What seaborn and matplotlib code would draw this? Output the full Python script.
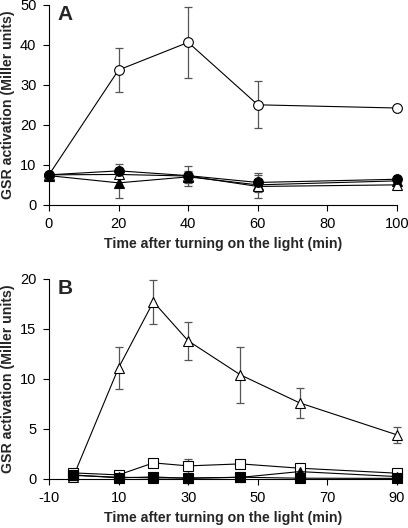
import matplotlib
matplotlib.use("Agg")
import matplotlib.pyplot as plt
import seaborn as sns
import pandas as pd

# === DATA ===
# Panel A
a_time = [0, 20, 40, 60, 100]
a_open_circle = [7.5, 33.7, 40.6, 25.0, 24.2]
a_open_circle_err = [0.5, 5.6, 8.8, 5.9, 0.3]
a_filled_circle = [7.5, 8.5, 7.3, 5.6, 6.4]
a_filled_circle_err = [0.6, 1.6, 2.5, 2.3, 0.3]
a_open_tri = [7.5, 7.6, 7.2, 4.6, 5.0]
a_open_tri_err = [0.5, 0.8, 1.0, 2.9, 0.3]
a_filled_tri = [7.3, 5.5, 7.0, 5.0, 6.0]
a_filled_tri_err = [0.5, 3.7, 1.5, 1.5, 0.3]

# Panel B
b_time = [-3, 10, 20, 30, 45, 62, 90]
b_open_tri = [0.23, 11.1, 17.7, 13.8, 10.4, 7.6, 4.4]
b_open_tri_err = [0.0, 2.1, 2.2, 1.9, 2.8, 1.5, 0.8]
b_open_sq = [0.6, 0.4, 1.6, 1.3, 1.5, 1.07, 0.57]
b_open_sq_err = [0.0, 0.1, 0.4, 0.7, 0.1, 0.1, 0.1]
b_filled_sq = [0.4, 0.1, 0.2, 0.05, 0.17, 0.07, 0.05]
b_filled_sq_err = [0.0, 0.05, 0.4, 0.1, 0.3, 0.05, 0.05]
b_filled_tri = [0.35, 0.17, 0.1, 0.1, 0.15, 0.73, 0.23]
b_filled_tri_err = [0.0, 0.05, 0.05, 0.05, 0.05, 0.1, 0.05]

X_LABEL = "Time after turning on the light (min)"
Y_LABEL = "GSR activation (Miller units)"

# === STYLE ===
sns.set_style("ticks")
plt.rcParams["font.family"] = ["Liberation Sans", "DejaVu Sans"]
plt.rcParams["axes.unicode_minus"] = False
FS = 10.5
ERR_COLOR = "#555555"


def draw_series(ax, x, y, err, marker, filled, size=7):
    df = pd.DataFrame({"t": x, "v": y})
    ax.errorbar(x, y, yerr=err, fmt="none", ecolor=ERR_COLOR, elinewidth=0.9,
                capsize=3, capthick=0.9, zorder=2, clip_on=False)
    sns.lineplot(data=df, x="t", y="v", ax=ax, color="black", lw=0.8,
                 marker=marker, markersize=size,
                 markerfacecolor="black" if filled else "white",
                 markeredgecolor="black", markeredgewidth=0.8,
                 zorder=3, clip_on=False, legend=False)


fig = plt.figure(figsize=(4.08, 5.28), dpi=100)
ax_a = fig.add_axes([0.12, 0.612, 0.853, 0.379])
ax_b = fig.add_axes([0.12, 0.093, 0.853, 0.379])

# Panel A
draw_series(ax_a, a_time, a_open_circle, a_open_circle_err, "o", False)
draw_series(ax_a, a_time, a_filled_tri, a_filled_tri_err, "^", True)
draw_series(ax_a, a_time, a_open_tri, a_open_tri_err, "^", False)
draw_series(ax_a, a_time, a_filled_circle, a_filled_circle_err, "o", True)
ax_a.set_xlim(0, 100)
ax_a.set_ylim(0, 50)
ax_a.set_xticks([0, 20, 40, 60, 80, 100])
ax_a.set_yticks([0, 10, 20, 30, 40, 50])

# Panel B
draw_series(ax_b, b_time, b_open_tri, b_open_tri_err, "^", False)
draw_series(ax_b, b_time, b_open_sq, b_open_sq_err, "s", False, size=6.5)
draw_series(ax_b, b_time, b_filled_sq, b_filled_sq_err, "s", True, size=6.5)
draw_series(ax_b, b_time, b_filled_tri, b_filled_tri_err, "^", True)
ax_b.set_xlim(-10, 90)
ax_b.set_ylim(0, 20)
ax_b.set_xticks([-10, 10, 30, 50, 70, 90])
ax_b.set_yticks([0, 5, 10, 15, 20])

for ax, letter in [(ax_a, "A"), (ax_b, "B")]:
    sns.despine(ax=ax)
    for s in ["left", "bottom"]:
        ax.spines[s].set_linewidth(0.8)
        ax.spines[s].set_color("black")
    ax.tick_params(axis="both", labelsize=FS, length=4, width=0.8,
                   colors="black", pad=5)
    ax.set_xlabel(X_LABEL, fontsize=10.2, fontweight="bold", labelpad=4)
    ax.set_ylabel(Y_LABEL, fontsize=10.2, fontweight="bold", labelpad=4)
    ax.text(0.025, 1.0, letter, transform=ax.transAxes, fontsize=15,
            fontweight="bold", va="top", ha="left")

fig.savefig("out.png", dpi=100)
